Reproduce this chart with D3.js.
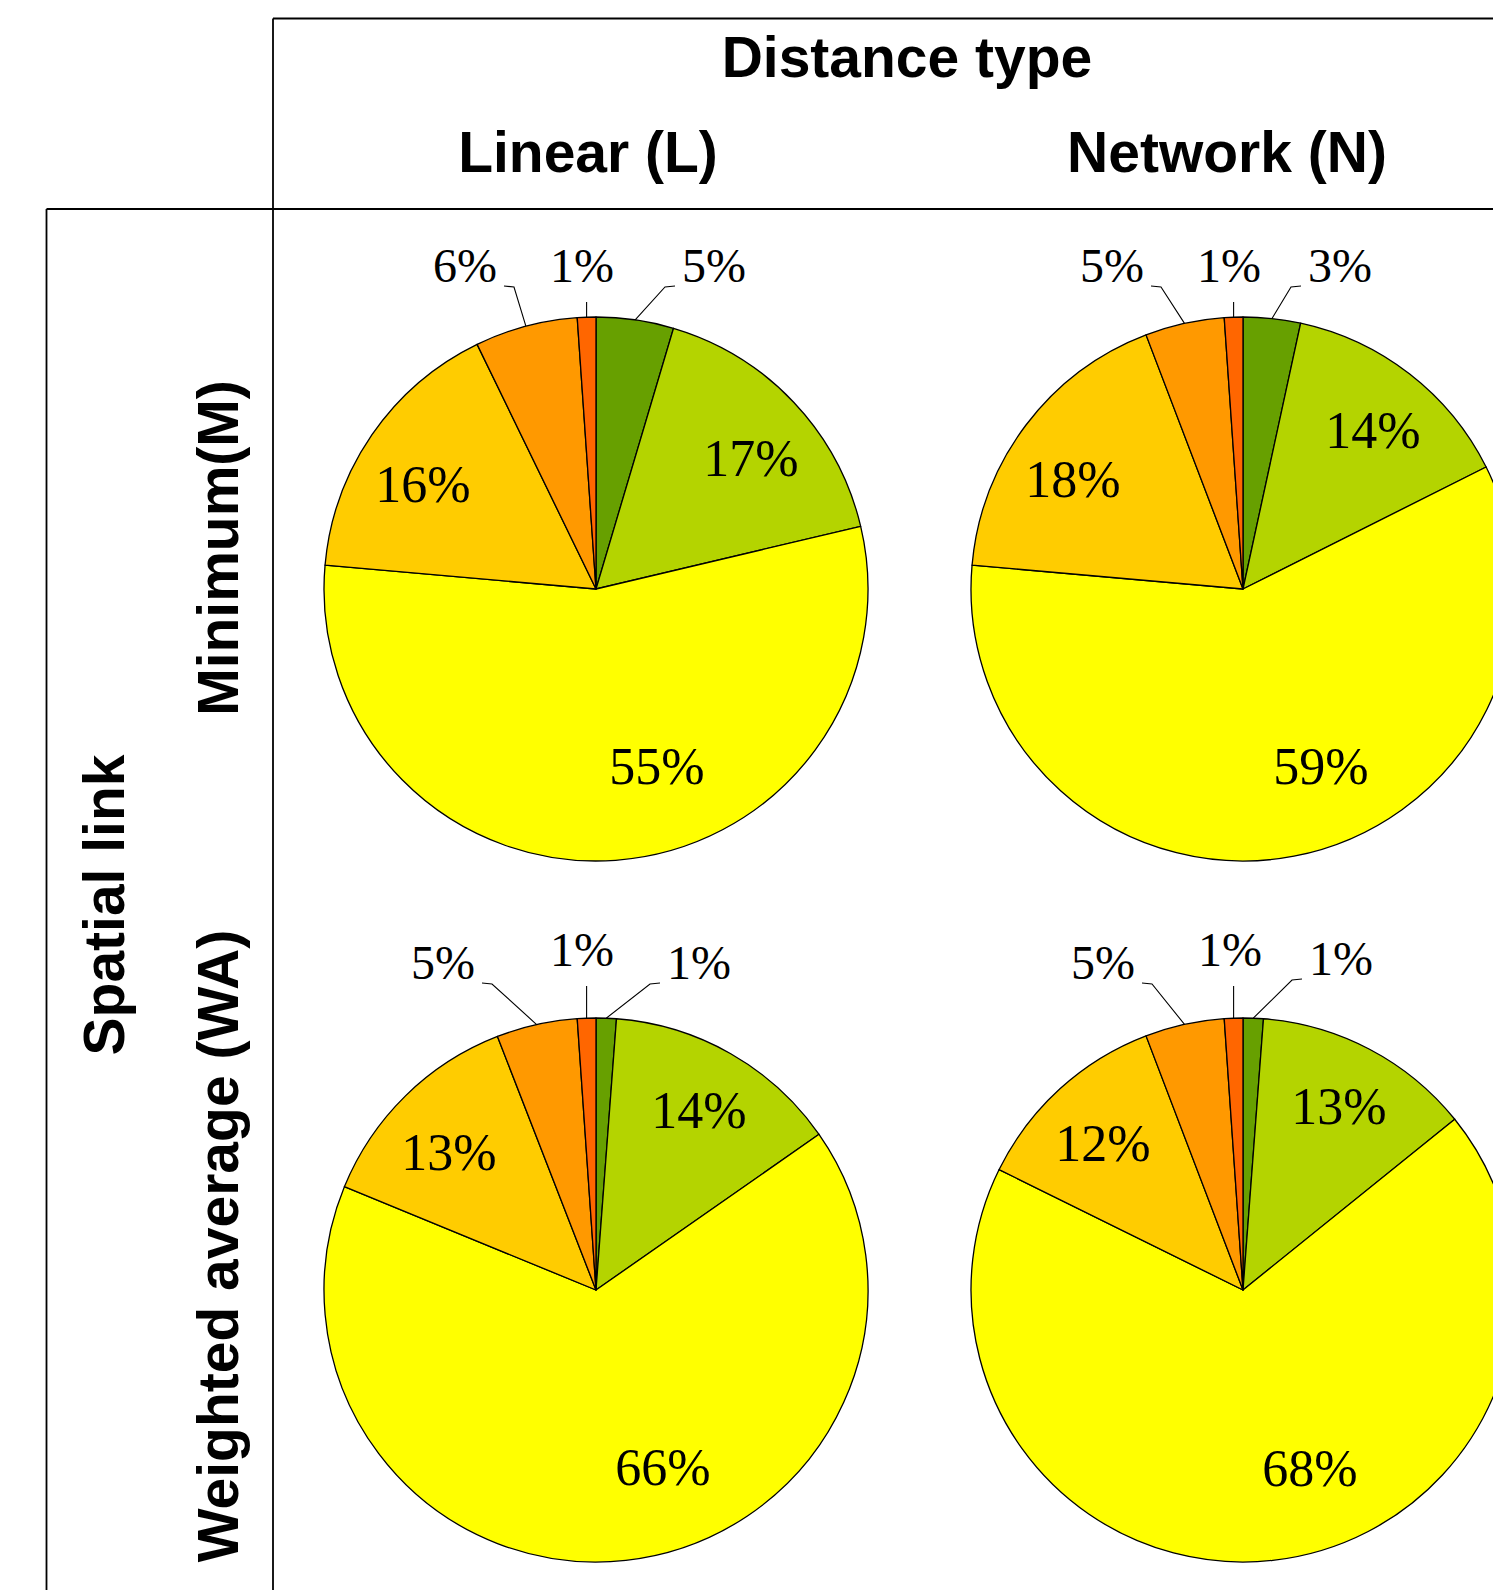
<!DOCTYPE html>
<html>
<head>
<meta charset="utf-8">
<script src="https://cdn.jsdelivr.net/npm/d3@7"></script>
<style>
  html, body { margin: 0; padding: 0; background: #ffffff; }
  svg { display: block; }
</style>
</head>
<body>
<script>
// ---------- DATA ----------
const categories = ["Class 1", "Class 2", "Class 3", "Class 4", "Class 5", "Class 6"];
const columnTitle = "Distance type";
const rowTitle = "Spatial link";
const columnLabels = ["Linear (L)", "Network (N)"];
const rowLabels = ["Minimum(M)", "Weighted average (WA)"];
// percentages, slice order clockwise from 12 o'clock
const valuesLinearMin = [4.6, 16.7, 55.1, 16.4, 6.1, 1.1];
const valuesNetworkMin = [3.4, 14.2, 58.8, 17.8, 4.7, 1.1];
const valuesLinearWA = [1.2, 14.1, 65.9, 12.9, 4.8, 1.1];
const valuesNetworkWA = [1.2, 13.0, 68.1, 11.9, 4.7, 1.1];

// ---------- STYLE / LAYOUT ----------
const W = 1493, H = 1590;
const sliceColors = ["#67a000", "#b4d400", "#ffff00", "#ffcc00", "#ff9900", "#ff6600"];
const outsideSlices = [0, 4, 5];
const radius = 272;
const colX = [596, 1243];
const rowY = [589, 1290];
// label anchors (text centre x, baseline y) relative to the pie centre, per slice
const labelOffsets = [
  [[118, -307], [155, -113], [61, 195], [-173, -87], [-131, -307], [-14, -307]],
  [[97, -307], [130, -141], [78, 195], [-170, -92], [-131, -307], [-14, -307]],
  [[103, -311], [103, -162], [67, 195], [-147, -120], [-153, -311], [-14, -324]],
  [[98, -315], [96, -166], [67, 196], [-140, -129], [-140, -311], [-13, -324]]
];

const panels = [
  { values: valuesLinearMin, col: 0, row: 0 },
  { values: valuesNetworkMin, col: 1, row: 0 },
  { values: valuesLinearWA, col: 0, row: 1 },
  { values: valuesNetworkWA, col: 1, row: 1 }
];

const svg = d3.select("body").append("svg")
  .attr("width", W).attr("height", H)
  .attr("viewBox", `0 0 ${W} ${H}`);

svg.append("rect").attr("width", W).attr("height", H).attr("fill", "#fff");

// ---------- GRID LINES ----------
const gridLines = [
  [273, 18.5, W, 18.5],
  [273, 18.5, 273, H],
  [46.5, 209, W, 209],
  [46.5, 209, 46.5, H]
];
svg.append("g").selectAll("line").data(gridLines).join("line")
  .attr("x1", d => d[0]).attr("y1", d => d[1])
  .attr("x2", d => d[2]).attr("y2", d => d[3])
  .attr("stroke", "#000").attr("stroke-width", 1.8);

// ---------- HEADERS ----------
const headFont = "'Liberation Sans', Arial, sans-serif";
svg.append("text").text(columnTitle)
  .attr("x", 907).attr("y", 77)
  .attr("text-anchor", "middle")
  .attr("font-family", headFont).attr("font-weight", "bold").attr("font-size", 57);

svg.append("g").selectAll("text").data(columnLabels).join("text")
  .text(d => d)
  .attr("x", (d, i) => [588, 1227][i]).attr("y", 172)
  .attr("text-anchor", "middle")
  .attr("font-family", headFont).attr("font-weight", "bold").attr("font-size", 57);

svg.append("text").text(rowTitle)
  .attr("transform", "translate(124,905) rotate(-90)")
  .attr("text-anchor", "middle")
  .attr("font-family", headFont).attr("font-weight", "bold").attr("font-size", 57);

svg.append("g").selectAll("text").data(rowLabels).join("text")
  .text(d => d)
  .attr("transform", (d, i) => `translate(238,${[548, 1246][i]}) rotate(-90)`)
  .attr("text-anchor", "middle")
  .attr("font-family", headFont).attr("font-weight", "bold").attr("font-size", 57);

// ---------- PIES ----------
const pie = d3.pie().sort(null).value(d => d);
const arc = d3.arc().innerRadius(0).outerRadius(radius);
const serif = "'Liberation Serif', 'Times New Roman', serif";

panels.forEach((p, pi) => {
  const cx = colX[p.col], cy = rowY[p.row];
  const g = svg.append("g").attr("transform", `translate(${cx},${cy})`);
  const arcs = pie(p.values);

  g.selectAll("path").data(arcs).join("path")
    .attr("d", arc)
    .attr("fill", (d, i) => sliceColors[i])
    .attr("stroke", "#000").attr("stroke-width", 1.3)
    .attr("stroke-linejoin", "round");

  const offs = labelOffsets[pi];
  arcs.forEach((d, i) => {
    const [lx, ly] = offs[i];
    const isOut = outsideSlices.includes(i);
    const t = g.append("text")
      .text(Math.round(p.values[i]) + "%")
      .attr("x", lx).attr("y", ly)
      .attr("text-anchor", "middle")
      .attr("font-family", serif)
      .attr("font-size", isOut ? 48 : 52)
      .attr("fill", "#000");
    if (isOut) {
      const mid = (d.startAngle + d.endAngle) / 2;
      const ax = radius * Math.sin(mid), ay = -radius * Math.cos(mid);
      let pts;
      if (i === 5) {
        pts = [[ax, ay], [ax, ly + 20]];
      } else {
        const half = t.node().getComputedTextLength() / 2;
        if (lx < ax) {
          const e = lx + half + 7;
          pts = [[ax, ay], [e + 10, ly + 5], [e, ly + 4]];
        } else {
          const e = lx - half - 7;
          pts = [[ax, ay], [e - 10, ly + 5], [e, ly + 4]];
        }
      }
      g.append("path")
        .attr("d", d3.line()(pts))
        .attr("fill", "none")
        .attr("stroke", "#000").attr("stroke-width", 1.1);
    }
  });
});
</script>
</body>
</html>
